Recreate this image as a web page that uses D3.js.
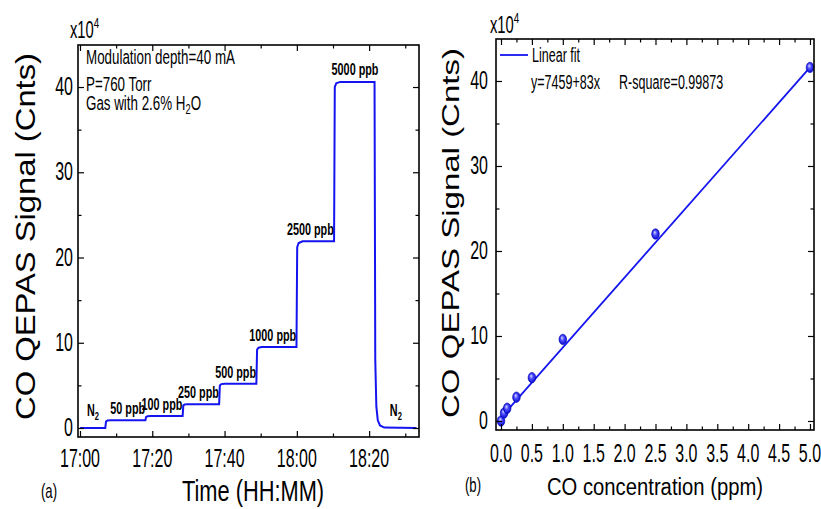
<!DOCTYPE html>
<html>
<head>
<meta charset="utf-8">
<script src="https://cdn.jsdelivr.net/npm/d3@7"></script>
<style>
  body { margin: 0; background: #fff; }
  svg { display: block; }
  .nar { font-family: "Liberation Sans", Arial, sans-serif; }
</style>
</head>
<body>
<svg id="chart" width="821" height="509"></svg>
<script>
// ---- data (a): time trace, minutes after 17:00, signal in x10^4 counts
const traceMin = [0, 7.0, 7.2, 7.6, 8.5, 18.1, 18.3, 18.7, 19.5, 28.4, 28.6, 29.0, 29.8,
  38.5, 38.7, 39.1, 40.0, 48.8, 49.0, 49.4, 50.3, 59.9, 60.1, 60.5, 61.6,
  70.3, 70.5, 70.9, 72.0, 81.5, 81.7, 82.0, 82.4, 83.0, 84.2, 93.1];
const traceVal = [0, 0, 0.75, 0.88, 0.9, 0.9, 1.3, 1.38, 1.4, 1.4, 2.65, 2.76, 2.8,
  2.8, 5.0, 5.15, 5.2, 5.2, 9.2, 9.42, 9.5, 9.5, 21.2, 21.7, 21.9,
  21.9, 40.0, 40.45, 40.6, 40.6, 8.0, 2.5, 0.9, 0.3, 0.05, 0];

const stepName  = ["N2", "50 ppb", "100 ppb", "250 ppb", "500 ppb", "1000 ppb", "2500 ppb", "5000 ppb", "N2"];
const stepStart = [0, 7.2, 18.3, 28.6, 38.7, 49.0, 60.1, 70.5, 81.7];
const stepEnd   = [7.2, 18.3, 28.6, 38.7, 49.0, 60.1, 70.5, 81.7, 93.1];
const stepLevel = [0, 0.9, 1.4, 2.8, 5.2, 9.5, 21.9, 40.6, 0];

const timeTicks  = [0, 20, 40, 60, 80];
const timeLabels = ["17:00", "17:20", "17:40", "18:00", "18:20"];
const signalTicks = [0, 10, 20, 30, 40];

// ---- data (b): calibration
const concPpm = [0, 0.05, 0.1, 0.25, 0.5, 1.0, 2.5, 5.0];
const concSig = [0, 0.94, 1.5, 2.8, 5.1, 9.6, 22.0, 41.6];
const fitX = [0, 5.0];
const fitY = [0.4, 41.6];
const concTicks = [0, 0.5, 1.0, 1.5, 2.0, 2.5, 3.0, 3.5, 4.0, 4.5, 5.0];

const svg = d3.select("#chart");
const blue = "#1414f0";
const SX = 0.82, SY = 1.28;   // narrow look: squeeze horizontally, stretch vertically

function txt(g, x, y, s, o) {
  o = o || {};
  const t = g.append("text")
    .attr("class", "nar")
    .attr("transform", `translate(${x},${y}) scale(${o.sx || SX},${o.sy || SY})`)
    .attr("text-anchor", o.anchor || "start")
    .attr("font-size", o.size || 16)
    .attr("font-weight", o.weight || "normal")
    .attr("fill", "#000");
  return t.text(s);
}

function withSub(g, x, y, main, sub, tail, o) {
  const t = txt(g, x, y, "", o);
  t.append("tspan").text(main);
  t.append("tspan").attr("font-size", (o.size || 16) * 0.7).attr("dy", 3).text(sub);
  if (tail) t.append("tspan").attr("dy", -3).text(tail);
  return t;
}

function frame(x, y, ext) {
  const g = svg.append("g");
  const [x0, x1] = x.range(), [y1, y0] = y.range();
  const major = 6, minor = 3.5;
  const add = (axis, tr) => g.append("g").attr("transform", tr).call(axis)
    .call(s => s.select(".domain").remove())
    .call(s => s.selectAll("line").attr("stroke", "#000").attr("stroke-width", 1.2));
  const mk = (ax, ticks, size) => ax.tickValues(ticks).tickSize(-size).tickFormat("");
  add(mk(d3.axisBottom(x), ext.xMajor, major), `translate(0,${y1})`);
  add(mk(d3.axisBottom(x), ext.xMinor, minor), `translate(0,${y1})`);
  add(mk(d3.axisTop(x), ext.xMajor, major), `translate(0,${y0})`);
  add(mk(d3.axisTop(x), ext.xMinor, minor), `translate(0,${y0})`);
  add(mk(d3.axisLeft(y), ext.yMajor, major), `translate(${x0},0)`);
  add(mk(d3.axisLeft(y), ext.yMinor, minor), `translate(${x0},0)`);
  add(mk(d3.axisRight(y), ext.yMajor, major), `translate(${x1},0)`);
  add(mk(d3.axisRight(y), ext.yMinor, minor), `translate(${x1},0)`);
  g.append("rect").attr("x", x0).attr("y", y0).attr("width", x1 - x0).attr("height", y1 - y0)
    .attr("fill", "none").attr("stroke", "#000").attr("stroke-width", 1.6);
  return g;
}

// ================= panel (a)
const xa = d3.scaleLinear().domain([-0.55, 93.8]).range([78, 419]);
const ya = d3.scaleLinear().domain([-1.056, 44.93]).range([437, 45]);

const ga = svg.append("g");
ga.append("path")
  .datum(traceMin.map((t, i) => [t, traceVal[i]]))
  .attr("d", d3.line().x(d => xa(d[0])).y(d => ya(d[1])))
  .attr("fill", "none").attr("stroke", blue).attr("stroke-width", 2);

frame(xa, ya, {
  xMajor: timeTicks, xMinor: d3.range(10, 94, 20),
  yMajor: signalTicks, yMinor: [5, 15, 25, 35]
});

timeTicks.forEach((t, i) => txt(svg, xa(t), 467, timeLabels[i], { anchor: "middle", size: 19.5 }));
signalTicks.forEach(v => txt(svg, 73, ya(v) + 8, String(v), { anchor: "end", size: 19.5 }));

const maxLevel = d3.max(stepLevel);
stepName.forEach((n, i) => {
  const o = { size: 13.2, weight: "bold" };
  if (n === "N2") {
    o.anchor = "middle";
    withSub(svg, xa((stepStart[i] + stepEnd[i]) / 2), ya(stepLevel[i]) - 12, "N", "2", "", o);
  } else if (stepLevel[i] === maxLevel) {
    o.anchor = "middle";
    txt(svg, xa((stepStart[i] + stepEnd[i]) / 2), ya(stepLevel[i]) - 7, n, o);
  } else {
    o.anchor = "end";
    txt(svg, xa(stepEnd[i]) - 1, ya(stepLevel[i]) - 6, n, o);
  }
});

txt(svg, 86, 64, "Modulation depth=40 mA", { size: 16.3 });
txt(svg, 86, 91, "P=760 Torr", { size: 16.3 });
withSub(svg, 86, 110, "Gas with 2.6% H", "2", "O", { size: 16.3 });

const expA = txt(svg, 70, 38, "x10", { size: 18 });
expA.append("tspan").attr("font-size", 12).attr("dy", -8).text("4");

svg.append("text").attr("transform", "translate(35,236.5) rotate(-90)")
  .attr("text-anchor", "middle").attr("font-family", "Liberation Sans, Arial, sans-serif")
  .attr("font-size", 28).attr("textLength", 367).attr("lengthAdjust", "spacingAndGlyphs")
  .text("CO QEPAS Signal (Cnts)");

txt(svg, 253, 501, "Time (HH:MM)", { anchor: "middle", size: 26.6, sy: 1.14 });
txt(svg, 49, 498, "(a)", { anchor: "middle", size: 16 });

// ================= panel (b)
const xb = d3.scaleLinear().domain([-0.081, 5.065]).range([496, 814]);
const yb = d3.scaleLinear().domain([-1.06, 44.94]).range([430, 39]);

const defs = svg.append("defs");
const grad = defs.append("radialGradient").attr("id", "ball")
  .attr("cx", "50%").attr("cy", "50%").attr("r", "55%").attr("fx", "38%").attr("fy", "32%");
grad.append("stop").attr("offset", "0%").attr("stop-color", "#dcdcff");
grad.append("stop").attr("offset", "45%").attr("stop-color", "#4a4aff");
grad.append("stop").attr("offset", "100%").attr("stop-color", "#0000c8");

const gb = svg.append("g");
gb.append("path")
  .datum(fitX.map((v, i) => [v, fitY[i]]))
  .attr("d", d3.line().x(d => xb(d[0])).y(d => yb(d[1])))
  .attr("fill", "none").attr("stroke", blue).attr("stroke-width", 1.8);

gb.selectAll("ellipse").data(concPpm.map((c, i) => [c, concSig[i]])).join("ellipse")
  .attr("cx", d => xb(d[0])).attr("cy", d => yb(d[1]))
  .attr("rx", 3.8).attr("ry", 5.2)
  .attr("fill", "url(#ball)").attr("stroke", "#0000b0").attr("stroke-width", 0.6);

frame(xb, yb, {
  xMajor: concTicks, xMinor: d3.range(0.25, 5.0, 0.5),
  yMajor: signalTicks, yMinor: [5, 15, 25, 35]
});

concTicks.forEach(v => txt(svg, xb(v), 462, v.toFixed(1), { anchor: "middle", size: 19.5 }));
signalTicks.forEach(v => txt(svg, 488, yb(v) + 8, String(v), { anchor: "end", size: 19.5 }));

gb.append("line").attr("x1", 500).attr("x2", 528).attr("y1", 55).attr("y2", 55)
  .attr("stroke", blue).attr("stroke-width", 1.8);
txt(svg, 532, 62, "Linear fit", { size: 15.3 });
txt(svg, 531, 89, "y=7459+83x", { size: 15.3 });
txt(svg, 619, 89, "R-square=0.99873", { size: 15.3 });

const expB = txt(svg, 490, 33, "x10", { size: 18 });
expB.append("tspan").attr("font-size", 12).attr("dy", -8).text("4");

svg.append("text").attr("transform", "translate(459,233) rotate(-90)")
  .attr("text-anchor", "middle").attr("font-family", "Liberation Sans, Arial, sans-serif")
  .attr("font-size", 24).attr("textLength", 370).attr("lengthAdjust", "spacingAndGlyphs")
  .text("CO QEPAS Signal (Cnts)");

txt(svg, 655, 495, "CO concentration (ppm)", { anchor: "middle", size: 24.7, sy: 1.0 });
txt(svg, 473, 492, "(b)", { anchor: "middle", size: 16 });
</script>
</body>
</html>
